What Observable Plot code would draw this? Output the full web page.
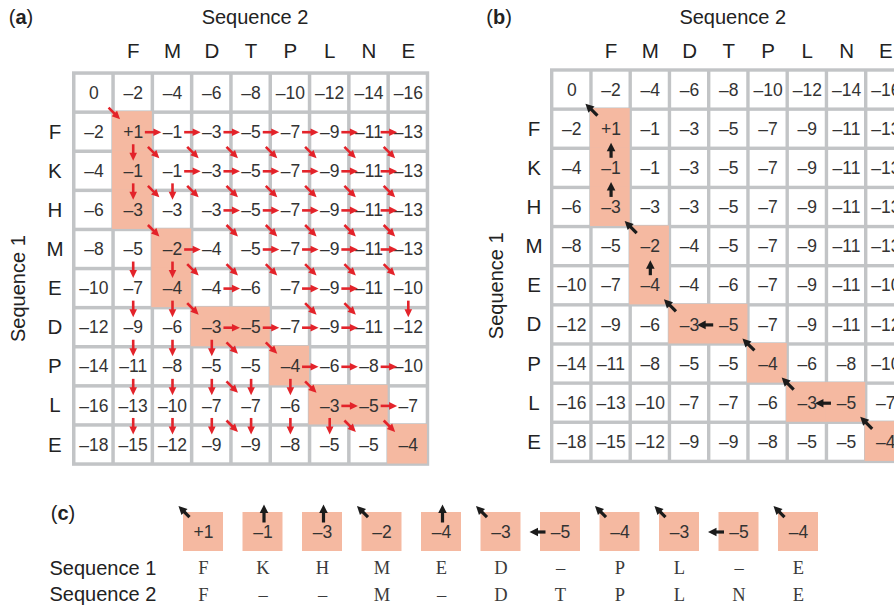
<!DOCTYPE html>
<html><head><meta charset="utf-8">
<script src="https://cdn.jsdelivr.net/npm/d3@7"></script>
<script src="https://cdn.jsdelivr.net/npm/@observablehq/plot@0.6"></script>
<style>
body{margin:0;background:#fff;}
#fig{position:relative;width:894px;height:607px;overflow:hidden;background:#fff;}
#fig svg{position:absolute;left:0;top:0;}
</style></head><body><div id="fig"></div>
<script>
// ---------- data ----------
const seq1 = ["F","K","H","M","E","D","P","L","E"];      // rows (Sequence 1)
const seq2 = ["F","M","D","T","P","L","N","E"];          // columns (Sequence 2)
const scoreRows = [
  [0,-2,-4,-6,-8,-10,-12,-14,-16],
  [-2,1,-1,-3,-5,-7,-9,-11,-13],
  [-4,-1,-1,-3,-5,-7,-9,-11,-13],
  [-6,-3,-3,-3,-5,-7,-9,-11,-13],
  [-8,-5,-2,-4,-5,-7,-9,-11,-13],
  [-10,-7,-4,-4,-6,-7,-9,-11,-10],
  [-12,-9,-6,-3,-5,-7,-9,-11,-12],
  [-14,-11,-8,-5,-5,-4,-6,-8,-10],
  [-16,-13,-10,-7,-7,-6,-3,-5,-7],
  [-18,-15,-12,-9,-9,-8,-5,-5,-4]
];
const tracePath = [[1,1],[2,1],[3,1],[4,2],[5,2],[6,3],[6,4],[7,5],[8,6],[8,7],[9,8]];
// red arrows of panel (a): source row -> source columns
const rightArrows = {1:[1,2,3,4,5,6,7], 2:[2,3,4,5,6,7], 3:[3,4,5,6,7], 4:[2,4,5,6,7], 5:[3,5,6], 6:[3,4,5,6], 7:[5,6,7], 8:[6,7]};
const downArrows  = {1:[1], 2:[1,2], 4:[1,2], 5:[1,2,8], 6:[1,2,3], 7:[1,2,3,4,5], 8:[1,2,3,4,5,6]};
const diagArrows  = {0:[0], 1:[1,2,3,4,5,6,7], 2:[1,2,3,4,5,6,7], 3:[1,3,4,5,6,7], 4:[2,3,4,5,6,7], 5:[2,5,6], 6:[3,4], 7:[3,5], 8:[3,6,7]};
const alignSeq1 = ["F","K","H","M","E","D","\u2013","P","L","\u2013","E"];
const alignSeq2 = ["F","\u2013","\u2013","M","\u2013","D","T","P","L","N","E"];
const panelLabels = ["(a)","(b)","(c)"];
const axisTitles = ["Sequence 1","Sequence 2"];

// ---------- style ----------
const FONT = "'Liberation Sans', Arial, Helvetica, sans-serif";
const MONO = "'Liberation Serif', 'DejaVu Serif', serif";
const PINK = "#f5b9a1", GRID = "#c2c4c6", TXT = "#333", DARK = "#222", RED = "#e3232a", BLACK = "#1b1b1b";
const fmt = v => v > 0 ? "+" + v : v < 0 ? "\u2013" + (-v) : "0";

const DIRS = {right:[1,0], down:[0,1], dr:[Math.SQRT1_2, Math.SQRT1_2], up:[0,-1], left:[-1,0], ul:[-Math.SQRT1_2,-Math.SQRT1_2]};
function headSymbol([ux, uy], L, W) {
  return {draw(ctx) {
    ctx.moveTo(ux * L, uy * L);
    ctx.lineTo(-ux - uy * W, -uy + ux * W);
    ctx.lineTo(-ux + uy * W, -uy - ux * W);
    ctx.closePath();
  }};
}
function arrowGeom(dir, ax, ay, tail, tip, L, sx, sy) {
  const [ux, uy] = DIRS[dir];
  return {dir, x1: ax + ux * tail / sx, y1: ay + uy * tail / sy,
               x2: ax + ux * (tip - L) / sx, y2: ay + uy * (tip - L) / sy};
}
function arrowMarks(arrows, color, width, L, W) {
  const marks = [Plot.link(arrows, {x1: "x1", y1: "y1", x2: "x2", y2: "y2", stroke: color, strokeWidth: width})];
  for (const dir of new Set(arrows.map(a => a.dir))) {
    marks.push(Plot.dot(arrows.filter(a => a.dir === dir),
      {x: "x2", y: "y2", r: 3, symbol: headSymbol(DIRS[dir], L, W), fill: color, stroke: "none"}));
  }
  return marks;
}
function stepDir(i) {
  const [r, c] = tracePath[i];
  const [pr, pc] = i ? tracePath[i - 1] : [0, 0];
  return (r - pr) && (c - pc) ? "ul" : (r - pr) ? "up" : "left";
}

const cells = scoreRows.flatMap((row, r) => row.map((v, c) => ({r, c, v})));
const pathCells = tracePath.map(([r, c]) => ({r, c}));
const nCols = seq2.length + 1, nRows = seq1.length + 1;

function matrixPlot(P, label, arrowLayer) {
  return Plot.plot({
    width: 894, height: 607, margin: 0,
    style: {background: "transparent", overflow: "visible", fontFamily: FONT},
    x: {domain: [0, nCols], range: [P.x0 + P.gap / 2, P.x0 + P.gap / 2 + nCols * P.pw], axis: null},
    y: {domain: [0, nRows], range: [P.y0 + P.gap / 2, P.y0 + P.gap / 2 + nRows * P.ph], axis: null},
    marks: [
      Plot.rect([{x1: 0, x2: nCols, y1: 0, y2: nRows}], {x1: "x1", x2: "x2", y1: "y1", y2: "y2", fill: GRID, inset: -P.gap / 2}),
      Plot.rect(cells, {x1: "c", x2: d => d.c + 1, y1: "r", y2: d => d.r + 1, fill: "white", inset: P.gap / 2}),
      Plot.rect(pathCells, {x1: "c", x2: d => d.c + 1, y1: "r", y2: d => d.r + 1, fill: PINK,
        insetLeft: -1, insetTop: -1, insetRight: 0.5, insetBottom: 0.5}),
      Plot.text(cells, {x: d => d.c + 0.5, y: d => d.r + 0.5, text: d => fmt(d.v), fontSize: 17.5, fill: TXT}),
      Plot.text(seq2, {x: (d, i) => i + 1.5, y: () => 0, dy: P.colDy, text: d => d, fontSize: 20.5, fill: DARK}),
      Plot.text(seq1, {x: () => 0, y: (d, i) => i + 1.5, dx: P.rowDx, text: d => d, fontSize: 20.5, fill: DARK}),
      Plot.text([axisTitles[1]], {x: () => 4.6, y: () => 0, dy: P.titleDy, text: d => d, fontSize: 20, fill: DARK}),
      Plot.text([label], {x: () => -1.355, y: () => 0, dy: P.titleDy, text: d => d, fontSize: 20, fill: DARK}),
      Plot.text([axisTitles[0]], {x: () => -1.41, y: () => (1 + nRows) / 2, rotate: -90, text: d => d, fontSize: 20, fill: DARK}),
      ...arrowLayer
    ]
  });
}

const pA = {x0: 72, y0: 71.3, pw: 39.3, ph: 39.1, gap: 3.5, titleDy: -55.5, colDy: -22.3, rowDx: -19.3};
const pB = {x0: 550, y0: 68.3, pw: 39.25, ph: 39.14, gap: 3.4, titleDy: -52.5, colDy: -19.3, rowDx: -18.2};

// red arrows (a)
const redA = [];
for (const [r, cols] of Object.entries(rightArrows)) for (const c of cols) redA.push(arrowGeom("right", c + 1, +r + 0.5, -8, 8.5, 7, pA.pw, pA.ph));
for (const [r, cols] of Object.entries(downArrows)) for (const c of cols) redA.push(arrowGeom("down", c + 0.5, +r + 1, -7.5, 9, 7, pA.pw, pA.ph));
for (const [r, cols] of Object.entries(diagArrows)) for (const c of cols) redA.push(arrowGeom("dr", c + 1, +r + 1, -7, 9.2, 7, pA.pw, pA.ph));

// black traceback arrows (b)
const blackB = tracePath.map(([r, c], i) => {
  const d = stepDir(i);
  return d === "ul" ? arrowGeom("ul", c, r, -8.5, 8.5, 7.5, pB.pw, pB.ph)
       : d === "up" ? arrowGeom("up", c + 0.5, r, -9, 6, 7.5, pB.pw, pB.ph)
       : arrowGeom("left", c, r + 0.5, -4, 12, 7.5, pB.pw, pB.ph);
});

const fig = document.getElementById("fig");
fig.append(matrixPlot(pA, panelLabels[0], arrowMarks(redA, RED, 2.6, 7, 3.8)));
fig.append(matrixPlot(pB, panelLabels[1], arrowMarks(blackB, BLACK, 3.2, 7.5, 4.3)));

// panel (c)
const C = {x0: 173.25, step: 59.5, boxW: 40, top: 512, boxH: 39};
const boxes = tracePath.map(([r, c], i) => ({i, v: scoreRows[r][c], dir: stepDir(i)}));
const inX = (C.step - C.boxW) / 2;
const blackC = boxes.map(b => {
  const left = b.i - 0.5 + inX / C.step;
  return b.dir === "ul" ? arrowGeom("ul", left + 0.5 / C.step, -1 / C.boxH, -7.8, 7.8, 7.5, C.step, C.boxH)
       : b.dir === "up" ? arrowGeom("up", b.i + 1 / C.step, 1 / C.boxH, -9, 9, 7.5, C.step, C.boxH)
       : arrowGeom("left", left - 3 / C.step, 0.5, -8, 8, 7.5, C.step, C.boxH);
});
const plotC = Plot.plot({
  width: 894, height: 607, margin: 0,
  style: {background: "transparent", overflow: "visible", fontFamily: FONT},
  x: {domain: [-0.5, boxes.length - 0.5], range: [C.x0, C.x0 + boxes.length * C.step], axis: null},
  y: {domain: [0, 1], range: [C.top, C.top + C.boxH], axis: null},
  marks: [
    Plot.rect(boxes, {x1: d => d.i - 0.5, x2: d => d.i + 0.5, y1: () => 0, y2: () => 1, fill: PINK, insetLeft: inX, insetRight: inX}),
    Plot.text(boxes, {x: "i", y: () => 0.5, text: d => fmt(d.v), fontSize: 17.5, fill: TXT}),
    Plot.text(alignSeq1, {x: (d, i) => i, y: () => 1, dy: 17, text: d => d, fontSize: 18.5, fontFamily: MONO, fill: "#3a3a3a"}),
    Plot.text(alignSeq2, {x: (d, i) => i, y: () => 1, dy: 43.5, text: d => d, fontSize: 18.5, fontFamily: MONO, fill: "#3a3a3a"}),
    Plot.text([axisTitles[0]], {x: () => -2.588, y: () => 1, dy: 17, textAnchor: "start", text: d => d, fontSize: 20, fill: DARK}),
    Plot.text([axisTitles[1]], {x: () => -2.588, y: () => 1, dy: 43.5, textAnchor: "start", text: d => d, fontSize: 20, fill: DARK}),
    Plot.text([panelLabels[2]], {x: () => -2.361, y: () => 0, dy: 1, text: d => d, fontSize: 20, fill: DARK}),
    ...arrowMarks(blackC, BLACK, 3.2, 7.5, 4.3)
  ]
});
fig.append(plotC);

// bold panel letters
fig.querySelectorAll("text").forEach(t => {
  const m = t.textContent.match(/^\((\w)\)$/);
  if (m) t.innerHTML = `(<tspan font-weight="bold">${m[1]}</tspan>)`;
});
</script></body></html>
